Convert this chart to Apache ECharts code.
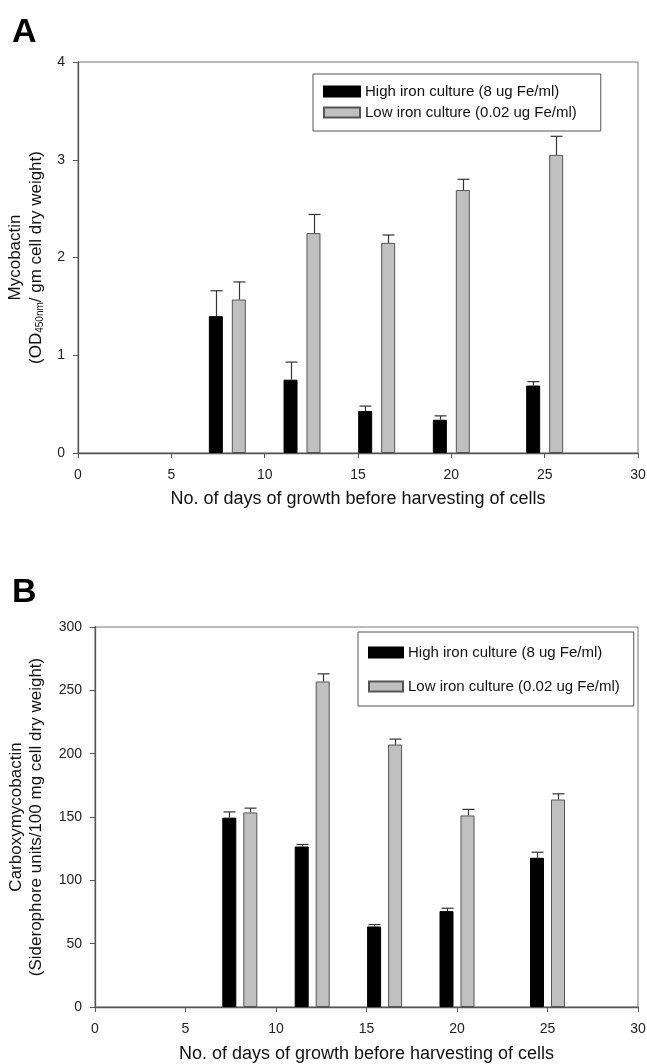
<!DOCTYPE html>
<html>
<head>
<meta charset="utf-8">
<script src="https://cdn.jsdelivr.net/npm/echarts@6/dist/echarts.min.js"></script>
<style>
html,body{margin:0;padding:0;background:#fff;}
#c{width:647px;height:1064px;}
</style>
</head>
<body>
<div id="c"></div>
<script>
// ---- data ----
const days = [8, 12, 16, 20, 25];
const xTicks = [0, 5, 10, 15, 20, 25, 30];
const seriesNames = ['High iron culture (8 ug Fe/ml)', 'Low iron culture (0.02 ug Fe/ml)'];
// Panel A: Mycobactin
const aHigh = [1.40, 0.75, 0.43, 0.34, 0.69];
const aHighErr = [1.66, 0.93, 0.48, 0.38, 0.73];
const aLow = [1.57, 2.25, 2.15, 2.69, 3.05];
const aLowErr = [1.75, 2.44, 2.23, 2.80, 3.24];
// Panel B: Carboxymycobactin
const bHigh = [149.5, 126.7, 63.6, 75.7, 117.8];
const bHighErr = [154, 128.3, 65.1, 78, 122.2];
const bLow = [153.6, 257, 207.2, 151.2, 163.8];
const bLowErr = [157, 263, 211.5, 156, 168.3];

const FONT = 'Liberation Sans, Arial, sans-serif';
const axisColor = '#555';

function pairs(vals) { return days.map((d, i) => [d, vals[i]]); }
function errPairs(vals, errs) { return days.map((d, i) => [d, vals[i], errs[i]]); }

function errSeries(name, data, xi, yi, offset) {
  return {
    type: 'custom', name: name + ' err', xAxisIndex: xi, yAxisIndex: yi, z: 5,
    silent: true, legendHoverLink: false,
    data: data,
    renderItem: function (params, api) {
      const p0 = api.coord([api.value(0), api.value(1)]);
      const p1 = api.coord([api.value(0), api.value(2)]);
      const x = Math.round(p0[0] + offset) + 0.5;
      const style = { stroke: '#333', lineWidth: 1.2 };
      return { type: 'group', children: [
        { type: 'line', shape: { x1: x, y1: p0[1], x2: x, y2: p1[1] }, style: style },
        { type: 'line', shape: { x1: x - 6, y1: p1[1], x2: x + 6, y2: p1[1] }, style: style }
      ]};
    }
  };
}

function xAxis(gi) {
  return {
    type: 'value', gridIndex: gi, min: 0, max: 30, interval: 5,
    name: 'No. of days of growth before harvesting of cells',
    nameLocation: 'middle', nameGap: gi === 0 ? 37 : 38,
    nameTextStyle: { fontFamily: FONT, fontSize: 18, color: '#111' },
    axisLine: { show: true, onZero: false, lineStyle: { color: axisColor, width: 1.3 } },
    axisTick: { show: true, length: 5, lineStyle: { color: axisColor } },
    axisLabel: { fontFamily: FONT, fontSize: 14, color: '#222', margin: 15,
      formatter: v => xTicks.includes(v) ? String(v) : '' },
    splitLine: { show: false }
  };
}

const barCommon = (color, border) => ({
  itemStyle: { color: color, borderColor: border, borderWidth: 1 }
});

const option = {
  animation: false,
  backgroundColor: '#fff',
  title: [
    { text: 'A', left: 7, top: 11, textStyle: { fontFamily: FONT, fontSize: 34, fontWeight: 'bold', color: '#000' } },
    { text: 'B', left: 7, top: 571, textStyle: { fontFamily: FONT, fontSize: 34, fontWeight: 'bold', color: '#000' } }
  ],
  legend: [
    { data: seriesNames.map(n => ({ name: n })), orient: 'vertical', left: 313, top: 74,
      itemWidth: 36, itemHeight: 10, itemGap: 6,
      padding: [10, 24, 11, 10], borderColor: '#555', borderWidth: 1,
      textStyle: { fontFamily: FONT, fontSize: 15, color: '#111' }, icon: 'rect', selectedMode: false },
    { data: seriesNames.map(n => ({ name: n })), orient: 'vertical', left: 358, top: 632,
      itemWidth: 34, itemHeight: 10, itemGap: 19,
      padding: [13, 14, 12, 10], borderColor: '#555', borderWidth: 1,
      textStyle: { fontFamily: FONT, fontSize: 15, color: '#111' }, icon: 'rect', selectedMode: false }
  ],
  grid: [
    { left: 78, top: 62, width: 560, height: 391, outerBoundsMode: 'none', containLabel: false,
      show: true, borderColor: '#777', borderWidth: 1, backgroundColor: 'transparent' },
    { left: 95, top: 627, width: 543, height: 380, outerBoundsMode: 'none', containLabel: false,
      show: true, borderColor: '#777', borderWidth: 1, backgroundColor: 'transparent' }
  ],
  xAxis: [xAxis(0), xAxis(1)],
  yAxis: [
    { type: 'value', gridIndex: 0, min: 0, max: 4, interval: 1,
      name: 'Mycobactin\n(OD{sub|450nm}/ gm cell dry weight)',
      nameLocation: 'middle', nameGap: 29,
      nameTextStyle: { fontFamily: FONT, fontSize: 17, color: '#111', lineHeight: 21, align: 'center',
        rich: { sub: { fontFamily: FONT, fontSize: 10, color: '#111', padding: [9, 0, 0, 0] } } },
      axisLine: { show: true, lineStyle: { color: axisColor, width: 1.3 } },
      axisTick: { show: true, length: 5, lineStyle: { color: axisColor } },
      axisLabel: { fontFamily: FONT, fontSize: 14, color: '#222', margin: 13 },
      splitLine: { show: false } },
    { type: 'value', gridIndex: 1, min: 0, max: 300, interval: 50,
      name: 'Carboxymycobactin\n(Siderophore units/100 mg cell dry weight)',
      nameLocation: 'middle', nameGap: 49,
      nameTextStyle: { fontFamily: FONT, fontSize: 17, color: '#111', lineHeight: 20, align: 'center' },
      axisLine: { show: true, lineStyle: { color: axisColor, width: 1.3 } },
      axisTick: { show: true, length: 5, lineStyle: { color: axisColor } },
      axisLabel: { fontFamily: FONT, fontSize: 14, color: '#222', margin: 13 },
      splitLine: { show: false } }
  ],
  series: [
    Object.assign({ type: 'bar', name: seriesNames[0], xAxisIndex: 0, yAxisIndex: 0, data: pairs(aHigh), barWidth: 14, barGap: '64%' }, barCommon('#000', '#000')),
    Object.assign({ type: 'bar', name: seriesNames[1], xAxisIndex: 0, yAxisIndex: 0, data: pairs(aLow), barWidth: 14, barGap: '64%' }, barCommon('#c0c0c0', '#555')),
    Object.assign({ type: 'bar', name: seriesNames[0], xAxisIndex: 1, yAxisIndex: 1, data: pairs(bHigh), barWidth: 14, barGap: '50%' }, barCommon('#000', '#000')),
    Object.assign({ type: 'bar', name: seriesNames[1], xAxisIndex: 1, yAxisIndex: 1, data: pairs(bLow), barWidth: 14, barGap: '50%' }, barCommon('#c0c0c0', '#555')),
    errSeries('aHigh', errPairs(aHigh, aHighErr), 0, 0, -11.5),
    errSeries('aLow', errPairs(aLow, aLowErr), 0, 0, 11.5),
    errSeries('bHigh', errPairs(bHigh, bHighErr), 1, 1, -10.5),
    errSeries('bLow', errPairs(bLow, bLowErr), 1, 1, 10.5)
  ]
};

const chart = echarts.init(document.getElementById('c'), null, { renderer: 'canvas' });
chart.setOption(option);
</script>
</body>
</html>
